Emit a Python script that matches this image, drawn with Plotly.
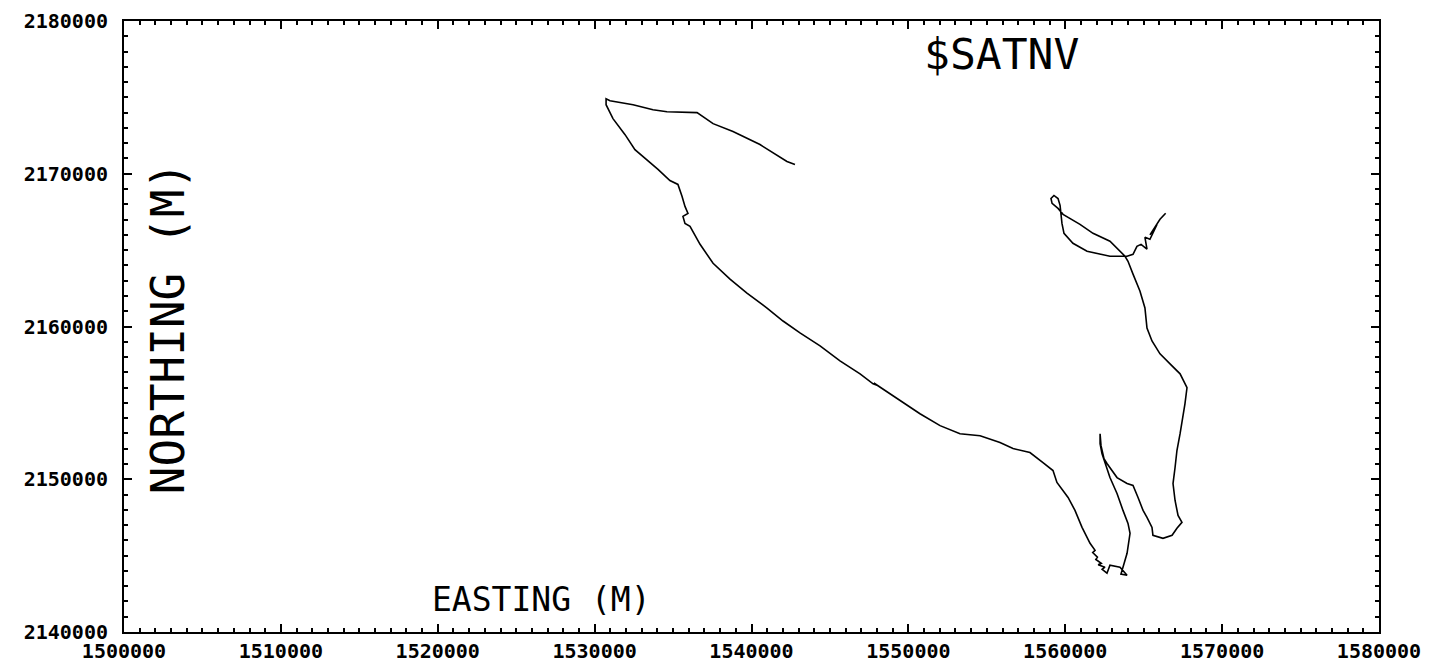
import plotly.graph_objects as go

# Track of the vessel (easting / northing, metres)
easting = [
    1542770, 1542260, 1540540, 1538820, 1537550, 1536530, 1534610, 1533720, 1532450, 1530980,
    1530730, 1530730, 1531170, 1531940, 1532570, 1533340, 1534040, 1534800, 1535310, 1535570,
    1535760, 1535950, 1535630, 1535760, 1536080, 1536720, 1537550, 1538630, 1539710, 1540990,
    1542010, 1543090, 1544370, 1545640, 1546920, 1547750, 1548000, 1547800, 1549020, 1550740,
    1552020, 1553290, 1554570, 1555840, 1556670, 1557750, 1558580, 1559220, 1559470, 1560180,
    1560620, 1561070, 1561580, 1561900, 1561750, 1562050, 1561950, 1562300, 1562100, 1562530,
    1562350, 1562660, 1562850, 1563490, 1563940, 1563550, 1563680, 1563940, 1564130, 1564000,
    1563680, 1563300, 1562850, 1562530, 1562340, 1562220, 1562220, 1562280, 1562470, 1562660,
    1563300, 1563940, 1564320, 1564640, 1564960, 1565210, 1565530, 1565590, 1566230, 1566810,
    1567120, 1567440, 1567190, 1567000, 1566870, 1567000, 1567120, 1567320, 1567510, 1567630,
    1567760, 1567320, 1566680, 1566040, 1565530, 1565210, 1565080, 1564760, 1564320, 1564000,
    1563810, 1562850, 1561770, 1560940, 1559860, 1559540, 1559160, 1559090, 1559280, 1559540,
    1559670, 1559730, 1559790, 1559920, 1560490, 1561390, 1562850, 1563940, 1564320, 1564570,
    1564830, 1565210, 1565080, 1565400, 1565590, 1565850, 1565400, 1566040, 1566400,
]
northing = [
    2170600, 2170800, 2171910, 2172760, 2173280, 2174000, 2174060, 2174190, 2174520, 2174780,
    2174910, 2174520, 2173610, 2172560, 2171580, 2170930, 2170280, 2169560, 2169300, 2168520,
    2167860, 2167410, 2167210, 2166750, 2166560, 2165380, 2164140, 2163100, 2162190, 2161210,
    2160360, 2159580, 2158730, 2157750, 2156900, 2156250, 2156150, 2156300, 2155460, 2154290,
    2153510, 2152980, 2152850, 2152400, 2152010, 2151750, 2151090, 2150570, 2149790, 2148810,
    2147960, 2146850, 2145810, 2145350, 2145200, 2144900, 2144750, 2144500, 2144400, 2144240,
    2144100, 2143850, 2144370, 2144240, 2143720, 2143790, 2144240, 2145150, 2146460, 2147110,
    2147960, 2149070, 2150110, 2151030, 2151680, 2152330, 2152980, 2152200, 2151350, 2151030,
    2150110, 2149720, 2149590, 2148810, 2147960, 2147500, 2146850, 2146330, 2146130, 2146330,
    2146790, 2147180, 2147630, 2148610, 2149720, 2150770, 2151880, 2152980, 2154030, 2154940,
    2155990, 2156900, 2157550, 2158210, 2159050, 2159900, 2161210, 2162320, 2163430, 2164270,
    2164600, 2165580, 2166100, 2166690, 2167340, 2167730, 2168060, 2168380, 2168580, 2168380,
    2167930, 2167410, 2166750, 2166100, 2165450, 2164930, 2164600, 2164600, 2164730, 2165250,
    2165380, 2165060, 2165840, 2165710, 2166100, 2166690, 2166000, 2167020, 2167410,
]

x_tick_vals = [1500000, 1510000, 1520000, 1530000, 1540000, 1550000, 1560000, 1570000, 1580000]
x_tick_text = ["1500000", "1510000", "1520000", "1530000", "1540000",
               "1550000", "1560000", "1570000", "1580000"]
y_tick_vals = [2140000, 2150000, 2160000, 2170000, 2180000]
y_tick_text = ["2140000", "2150000", "2160000", "2170000", "2180000"]

fig = go.Figure()
fig.add_trace(go.Scatter(
    x=easting, y=northing, mode="lines",
    line=dict(color="black", width=1.6),
    showlegend=False, hoverinfo="skip",
))

tick_font = dict(family="DejaVu Sans Mono", size=20, color="black", weight="bold")

fig.update_layout(
    width=1425, height=659,
    margin=dict(l=116, r=54, t=13, b=35, autoexpand=False),
    paper_bgcolor="white", plot_bgcolor="white",
    xaxis=dict(
        range=[1500000, 1580000], showgrid=False, zeroline=False, automargin=False,
        tickmode="array", tickvals=x_tick_vals, ticktext=x_tick_text,
        ticks="inside", ticklen=8, tickwidth=1.5, tickcolor="black",
        minor=dict(dtick=1000, ticks="inside", ticklen=4, tickwidth=1.5,
                   tickcolor="black", showgrid=False),
        showline=True, linecolor="black", linewidth=2, mirror="ticks",
        tickfont=tick_font, ticklabelstandoff=0, ticklabeloverflow="allow",
    ),
    yaxis=dict(
        range=[2140000, 2180000], showgrid=False, zeroline=False, automargin=False,
        tickmode="array", tickvals=y_tick_vals, ticktext=y_tick_text,
        ticks="inside", ticklen=8, tickwidth=1.5, tickcolor="black",
        minor=dict(dtick=1000, ticks="inside", ticklen=4, tickwidth=1.5,
                   tickcolor="black", showgrid=False),
        showline=True, linecolor="black", linewidth=2, mirror="ticks",
        tickfont=tick_font, ticklabelstandoff=10, ticklabeloverflow="allow",
    ),
    annotations=[
        dict(text="$SATNV", xref="paper", yref="paper", x=0.6996, y=0.946,
             showarrow=False, xanchor="center", yanchor="middle",
             font=dict(family="DejaVu Sans Mono", size=43, color="black")),
        dict(text="EASTING (M)", xref="paper", yref="paper", x=0.333, y=0.054,
             showarrow=False, xanchor="center", yanchor="middle",
             font=dict(family="DejaVu Sans Mono", size=33, color="black")),
        dict(text="NORTHING (M)", xref="paper", yref="paper", x=0.035, y=0.497,
             showarrow=False, xanchor="center", yanchor="middle", textangle=-90,
             font=dict(family="DejaVu Sans Mono", size=46, color="black")),
    ],
)

fig.write_html("out.html")
